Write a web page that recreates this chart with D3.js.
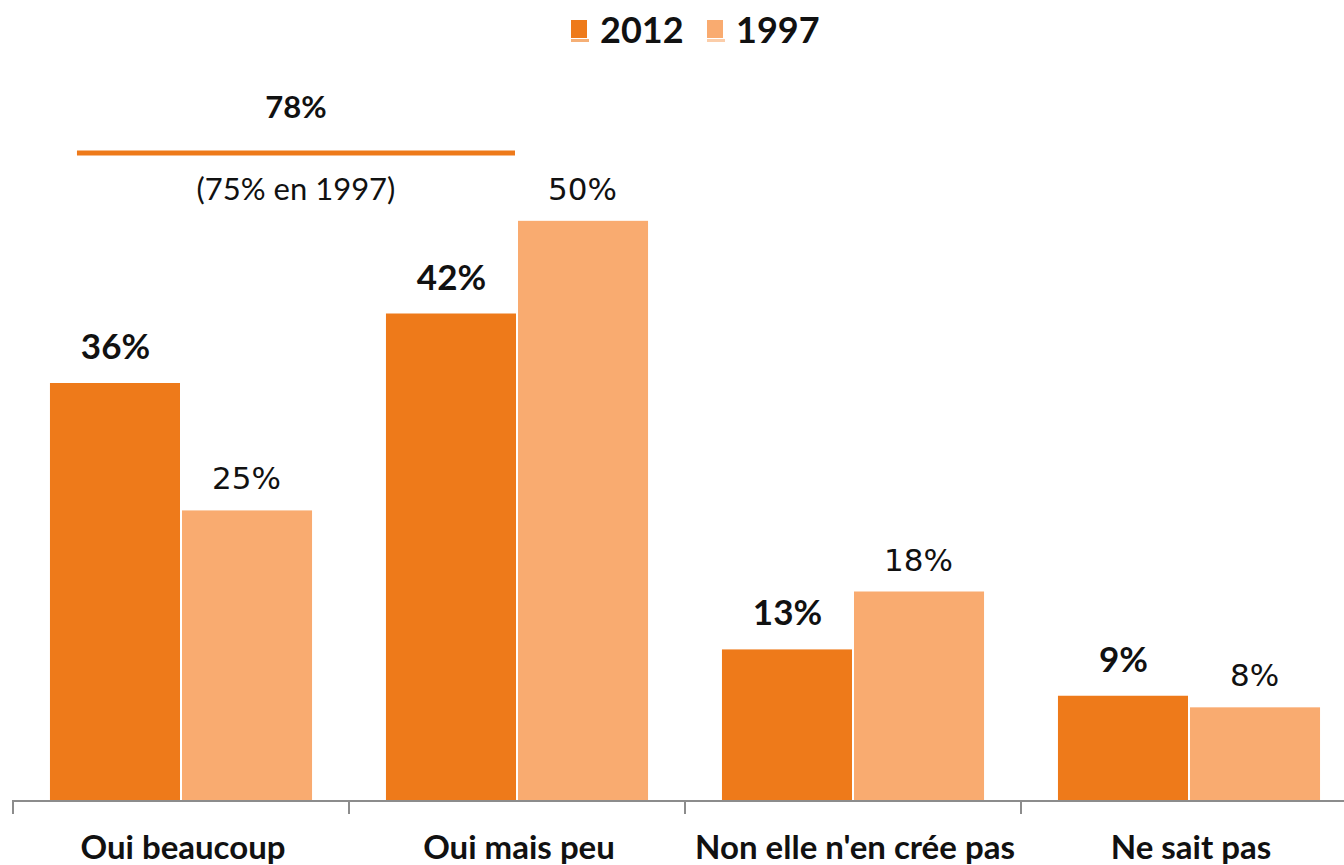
<!DOCTYPE html>
<html>
<head>
<meta charset="utf-8">
<script src="https://d3js.org/d3.v7.min.js"></script>
<style>
body { margin: 0; background: #fff; }
svg { display: block; font-family: Lato, "Open Sans", sans-serif; }
</style>
</head>
<body>
<svg id="chart" width="1344" height="865"></svg>
<script>
var categories = ["Oui beaucoup", "Oui mais peu", "Non elle n'en crée pas", "Ne sait pas"];
var series = ["2012", "1997"];
var values2012 = [36, 42, 13, 9];
var values1997 = [25, 50, 18, 8];
var colors = ["#EE7A1A", "#F9AB70"];
var totalLabel = "78%";
var totalNote = "(75% en 1997)";

var svg = d3.select("#chart");
var baseY = 800;

// x scale over categories, plot starts at 13 and runs past the right edge
var x0 = d3.scaleBand().domain(categories).range([13, 1357]).padding(0);
var bw = x0.bandwidth();
var x1 = d3.scaleBand().domain(series).range([bw * 0.11, bw * 0.89]).padding(0);
var y = d3.scaleLinear().domain([0, 60]).range([baseY, 105]);

var rows = categories.map(function(c, i){
	return {cat: c, vals: [values2012[i], values1997[i]]};
});
var cells = function(d){
	return d.vals.map(function(v, k){ return {s: series[k], v: v, k: k}; });
};

var groups = svg.selectAll("g.grp")
	.data(rows)
	.enter().append("g")
	.attr("class", "grp")
	.attr("transform", function(d){ return "translate(" + x0(d.cat) + ",0)"; });

groups.selectAll("rect")
	.data(cells)
	.enter().append("rect")
	.attr("x", function(d){ return x1(d.s) + (d.k == 1 ? 1 : 0); })
	.attr("y", function(d){ return y(d.v); })
	.attr("width", function(){ return x1.bandwidth() - 1; })
	.attr("height", function(d){ return baseY - y(d.v); })
	.attr("fill", function(d){ return colors[d.k]; });

groups.selectAll("text.val")
	.data(cells)
	.enter().append("text")
	.attr("class", "val")
	.attr("x", function(d){ return x1(d.s) + x1.bandwidth() / 2; })
	.attr("y", function(d){ return y(d.v) - (d.k == 0 ? 24 : 21); })
	.attr("text-anchor", "middle")
	.attr("font-weight", function(d){ return d.k == 0 ? "bold" : "normal"; })
	.attr("font-family", function(d){ return d.k == 0 ? null : "'DejaVu Sans', sans-serif"; })
	.attr("font-size", function(d){ return d.k == 0 ? "35px" : "31px"; })
	.attr("fill", "#111")
	.text(function(d){ return d.v + "%"; });

// axis line and category ticks
svg.append("line")
	.attr("x1", 13).attr("x2", 1344)
	.attr("y1", baseY + 1).attr("y2", baseY + 1)
	.attr("stroke", "#8c8c8c").attr("stroke-width", 2);
svg.selectAll("line.tick")
	.data(categories)
	.enter().append("line")
	.attr("class", "tick")
	.attr("x1", function(d){ return x0(d); })
	.attr("x2", function(d){ return x0(d); })
	.attr("y1", baseY).attr("y2", baseY + 14)
	.attr("stroke", "#8c8c8c").attr("stroke-width", 2);

svg.selectAll("text.cat")
	.data(categories)
	.enter().append("text")
	.attr("class", "cat")
	.attr("x", function(d){ return x0(d) + bw / 2 + 2; })
	.attr("y", 859)
	.attr("text-anchor", "middle")
	.attr("font-size", "33px")
	.attr("font-weight", "bold")
	.attr("fill", "#111")
	.text(function(d){ return d; });

// bracket over the two "oui" answers
var bx1 = x0(categories[0]) + x1(series[0]) + 27;
var bx2 = x0(categories[1]) + x1(series[0]) + x1.bandwidth() - 2;
svg.append("line")
	.attr("x1", bx1).attr("x2", bx2)
	.attr("y1", 153).attr("y2", 153)
	.attr("stroke", colors[0]).attr("stroke-width", 5);
svg.append("text")
	.attr("x", (bx1 + bx2) / 2).attr("y", 118)
	.attr("text-anchor", "middle")
	.attr("font-size", "31px").attr("font-weight", "bold")
	.attr("fill", "#111")
	.text(totalLabel);
svg.append("text")
	.attr("x", (bx1 + bx2) / 2).attr("y", 200)
	.attr("text-anchor", "middle")
	.attr("font-size", "31px")
	.attr("fill", "#111")
	.text(totalNote);

// legend
var legend = svg.append("g");
var legX = [571, 707];
series.forEach(function(s, k){
	legend.append("rect")
		.attr("x", legX[k]).attr("y", 39)
		.attr("width", 18).attr("height", 3)
		.attr("fill", colors[k]).attr("opacity", 0.6);
	legend.append("rect")
		.attr("x", legX[k]).attr("y", 20)
		.attr("width", 16).attr("height", 18)
		.attr("fill", colors[k]);
	legend.append("text")
		.attr("x", legX[k] + 29).attr("y", 43)
		.attr("font-size", "36px").attr("font-weight", "bold")
		.attr("fill", "#111")
		.text(s);
});
</script>
</body>
</html>
